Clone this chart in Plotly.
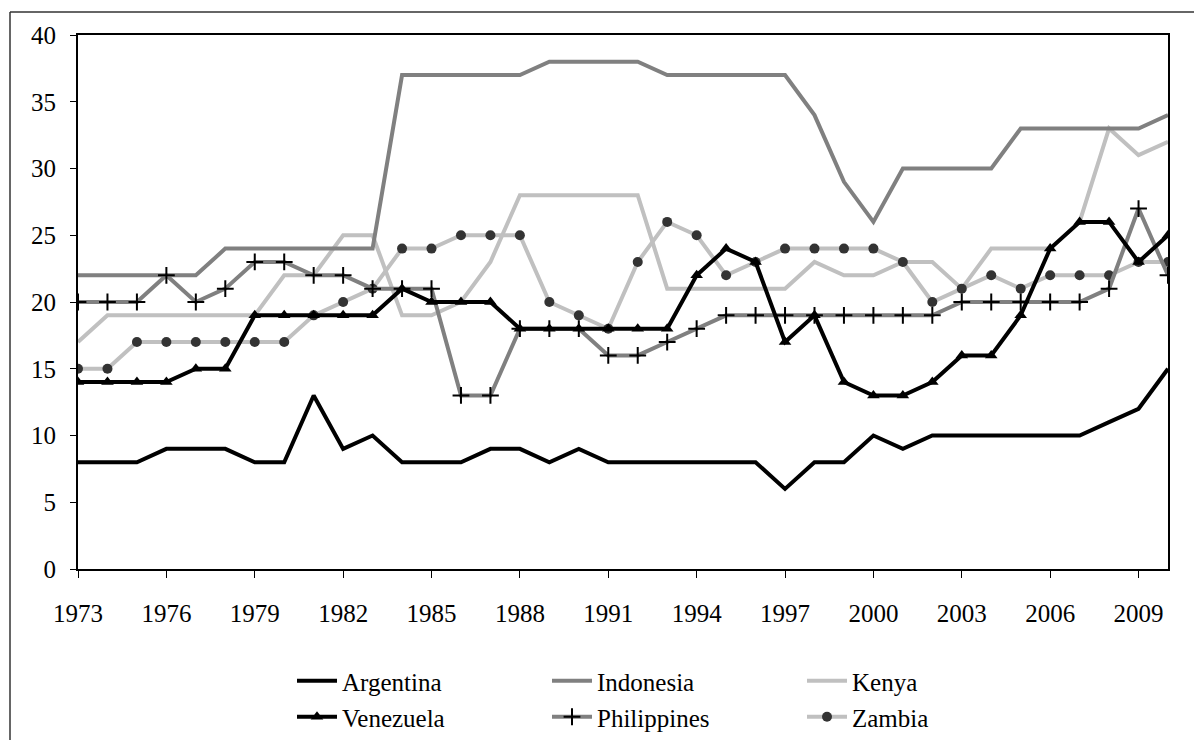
import plotly.graph_objects as go

years = list(range(1973, 2011))

argentina = [8, 8, 8, 9, 9, 9, 8, 8, 13, 9, 10, 8, 8, 8, 9, 9, 8, 9, 8, 8,
             8, 8, 8, 8, 6, 8, 8, 10, 9, 10, 10, 10, 10, 10, 10, 11, 12, 15]
indonesia = [22, 22, 22, 22, 22, 24, 24, 24, 24, 24, 24, 37, 37, 37, 37, 37, 38, 38, 38, 38,
             37, 37, 37, 37, 37, 34, 29, 26, 30, 30, 30, 30, 33, 33, 33, 33, 33, 34]
kenya = [17, 19, 19, 19, 19, 19, 19, 22, 22, 25, 25, 19, 19, 20, 23, 28, 28, 28, 28, 28,
         21, 21, 21, 21, 21, 23, 22, 22, 23, 23, 21, 24, 24, 24, 26, 33, 31, 32]
venezuela = [14, 14, 14, 14, 15, 15, 19, 19, 19, 19, 19, 21, 20, 20, 20, 18, 18, 18, 18, 18,
             18, 22, 24, 23, 17, 19, 14, 13, 13, 14, 16, 16, 19, 24, 26, 26, 23, 25]
philippines = [20, 20, 20, 22, 20, 21, 23, 23, 22, 22, 21, 21, 21, 13, 13, 18, 18, 18, 16, 16,
               17, 18, 19, 19, 19, 19, 19, 19, 19, 19, 20, 20, 20, 20, 20, 21, 27, 22]
zambia = [15, 15, 17, 17, 17, 17, 17, 17, 19, 20, 21, 24, 24, 25, 25, 25, 20, 19, 18, 23,
          26, 25, 22, 23, 24, 24, 24, 24, 23, 20, 21, 22, 21, 22, 22, 22, 23, 23]

tick_years = list(range(1973, 2010, 3))
y_ticks = list(range(0, 41, 5))

FONT = "Liberation Serif, Times New Roman, serif"
FS = 25
LW = 4

fig = go.Figure()

# draw order: lighter lines first so black lines sit on top
fig.add_trace(go.Scatter(x=years, y=kenya, name="Kenya", mode="lines",
                         line=dict(color="#c0c0c0", width=LW), legend="legend"))
fig.add_trace(go.Scatter(x=years, y=zambia, name="Zambia", mode="lines+markers",
                         line=dict(color="#c0c0c0", width=LW),
                         marker=dict(symbol="circle", size=10, color="#333333"),
                         legend="legend2"))
fig.add_trace(go.Scatter(x=years, y=indonesia, name="Indonesia", mode="lines",
                         line=dict(color="#808080", width=LW), legend="legend"))
fig.add_trace(go.Scatter(x=years, y=philippines, name="Philippines", mode="lines+markers",
                         line=dict(color="#808080", width=LW),
                         marker=dict(symbol="cross-thin", size=12, color="#000000",
                                     line=dict(color="#000000", width=2)),
                         legend="legend2"))
fig.add_trace(go.Scatter(x=years, y=argentina, name="Argentina", mode="lines",
                         line=dict(color="#000000", width=LW), legend="legend"))
fig.add_trace(go.Scatter(x=years, y=venezuela, name="Venezuela", mode="lines+markers",
                         line=dict(color="#000000", width=LW),
                         marker=dict(symbol="triangle-up", size=11, color="#000000"),
                         legend="legend2"))

leg_common = dict(orientation="h", xanchor="left", yanchor="middle",
                  font=dict(family=FONT, size=FS, color="#000000"),
                  entrywidth=200, entrywidthmode="pixels",
                  bgcolor="rgba(0,0,0,0)", itemwidth=40, tracegroupgap=0)

PL, PR, PT, PB = 78, 1168, 35, 569   # target plot-area box in the screenshot
W, H = 1194, 740
PW, PH = PR - PL, PB - PT

fig.update_layout(
    width=W, height=H,
    margin=dict(l=PL, r=W - PR, t=PT, b=H - PB, autoexpand=False),
    paper_bgcolor="white", plot_bgcolor="white",
    font=dict(family=FONT, size=FS, color="#000000"),
    showlegend=True,
    legend=dict(x=(292 - PL) / PW, y=(PB - 681) / PH, traceorder="normal", **leg_common),
    legend2=dict(x=(292 - PL) / PW, y=(PB - 717) / PH, traceorder="normal", **leg_common),
    xaxis=dict(range=[1973, 2010], tickmode="array", tickvals=tick_years,
               ticktext=[str(t) for t in tick_years],
               showgrid=False, zeroline=False, showline=True, linecolor="#000000",
               linewidth=2, mirror=True, ticks="outside", ticklen=7, tickwidth=1,
               tickcolor="#000000", ticklabelstandoff=14,
               tickfont=dict(family=FONT, size=FS, color="#000000")),
    yaxis=dict(range=[0, 40], tickmode="array", tickvals=y_ticks,
               showgrid=False, zeroline=False, showline=True, linecolor="#000000",
               linewidth=2, mirror=True, ticks="outside", ticklen=6, tickwidth=1,
               tickcolor="#000000", ticklabelstandoff=9,
               tickfont=dict(family=FONT, size=FS, color="#000000")),
)

order = {"Argentina": 1, "Indonesia": 2, "Kenya": 3,
         "Venezuela": 1, "Philippines": 2, "Zambia": 3}
for tr in fig.data:
    tr.legendrank = order[tr.name]

# outer chart-area border (cropped on right and bottom)
x0 = (10 - PL) / PW
y0 = (PB - 12) / PH
fig.add_shape(type="line", xref="paper", yref="paper", x0=x0, x1=x0, y0=y0, y1=-0.5,
              line=dict(color="#333333", width=1.5))
fig.add_shape(type="line", xref="paper", yref="paper", x0=x0, x1=1.1, y0=y0, y1=y0,
              line=dict(color="#333333", width=1.5))

fig.write_html("out.html",
               config={"displayModeBar": False},
               post_script="document.body.style.margin='0';"
                           "document.body.style.overflow='hidden';")
